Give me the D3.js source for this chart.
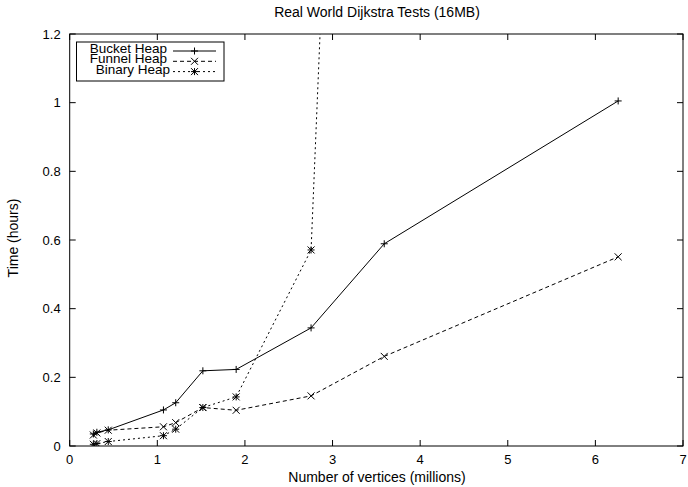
<!DOCTYPE html>
<html>
<head>
<meta charset="utf-8">
<script src="https://d3js.org/d3.v7.min.js"></script>
<style>
  body { margin: 0; background: #fff; }
  svg text { font-family: "Liberation Sans", Arial, Helvetica, sans-serif; font-size: 14px; fill: #000; }
  svg .tick text { font-size: 13px; }
  svg .legend text { font-size: 13.5px; }
</style>
</head>
<body>
<div class="wrapper"></div>
<script>
// data (x in millions of vertices, y in hours)
var vertices = [0.27, 0.31, 0.44, 1.07, 1.21, 1.52, 1.90, 2.755, 3.59, 6.26];
var bucketHeap = [0.035, 0.040, 0.047, 0.105, 0.126, 0.219, 0.223, 0.344, 0.589, 1.005];
var funnelHeap = [0.032, 0.038, 0.046, 0.056, 0.068, 0.112, 0.104, 0.146, 0.261, 0.551];
// last binary point lies far above the plot, only its line is visible
var binaryHeap = [0.005, 0.007, 0.013, 0.030, 0.049, 0.112, 0.143, 0.571, 5.7];
var seriesNames = ["Bucket Heap", "Funnel Heap", "Binary Heap"];
var xTicks = [0, 1, 2, 3, 4, 5, 6, 7];
var yTicks = [0, 0.2, 0.4, 0.6, 0.8, 1, 1.2];

var W = 688, H = 487;
var pLeft = 69.7, pRight = 683, pTop = 34, pBottom = 446;

var svg = d3.select(".wrapper")
  .append("svg")
  .attr("width", W)
  .attr("height", H);

var x = d3.scaleLinear().domain([0, 7]).range([pLeft, pRight]);
var y = d3.scaleLinear().domain([0, 1.2]).range([pBottom, pTop]);

// tick marks inside on all four sides (gnuplot mirror style)
var tickLen = 6;
var g = svg.append("g").attr("stroke", "#000").attr("stroke-width", 1);
xTicks.forEach(function(t) {
  g.append("line").attr("x1", x(t)).attr("x2", x(t)).attr("y1", pBottom).attr("y2", pBottom - tickLen);
  g.append("line").attr("x1", x(t)).attr("x2", x(t)).attr("y1", pTop).attr("y2", pTop + tickLen);
});
yTicks.forEach(function(t) {
  g.append("line").attr("x1", pLeft).attr("x2", pLeft + tickLen).attr("y1", y(t)).attr("y2", y(t));
  g.append("line").attr("x1", pRight).attr("x2", pRight - tickLen).attr("y1", y(t)).attr("y2", y(t));
});

var labels = svg.append("g").attr("class", "tick");
labels.selectAll(".xlab").data(xTicks).enter().append("text")
  .attr("x", function(d) { return x(d); })
  .attr("y", pBottom + 18)
  .attr("text-anchor", "middle")
  .text(function(d) { return d; });

labels.selectAll(".ylab").data(yTicks).enter().append("text")
  .attr("x", pLeft - 9)
  .attr("y", function(d) { return y(d) + 4.5; })
  .attr("text-anchor", "end")
  .text(function(d) { return d; });

svg.append("text").attr("x", 377).attr("y", 17).attr("text-anchor", "middle")
  .text("Real World Dijkstra Tests (16MB)");
svg.append("text").attr("x", 377).attr("y", 482).attr("text-anchor", "middle")
  .text("Number of vertices (millions)");
svg.append("text").attr("transform", "translate(18," + ((pTop + pBottom) / 2 - 2) + ") rotate(-90)")
  .attr("text-anchor", "middle")
  .text("Time (hours)");

svg.append("clipPath").attr("id", "plotclip")
  .append("rect").attr("x", pLeft).attr("y", pTop).attr("width", pRight - pLeft).attr("height", pBottom - pTop);

// point markers
var s = 3.5;
function plus(sel, px, py) {
  sel.append("path").attr("d", "M" + (px - s) + "," + py + "H" + (px + s) + "M" + px + "," + (py - s) + "V" + (py + s));
}
function cross(sel, px, py) {
  sel.append("path").attr("d", "M" + (px - s) + "," + (py - s) + "L" + (px + s) + "," + (py + s) +
    "M" + (px - s) + "," + (py + s) + "L" + (px + s) + "," + (py - s));
}
function star(sel, px, py) { plus(sel, px, py); cross(sel, px, py); }

var series = [
  { name: seriesNames[0], values: bucketHeap, dash: null, mark: plus },
  { name: seriesNames[1], values: funnelHeap, dash: "4,3", mark: cross },
  { name: seriesNames[2], values: binaryHeap, dash: "2,3", mark: star }
];

var line = d3.line()
  .x(function(d) { return x(d[0]); })
  .y(function(d) { return y(d[1]); });

var plot = svg.append("g").attr("clip-path", "url(#plotclip)");
series.forEach(function(sr) {
  var pts = sr.values.map(function(v, i) { return [vertices[i], v]; });
  plot.append("path")
    .attr("d", line(pts))
    .attr("fill", "none")
    .attr("stroke", "#000")
    .attr("stroke-width", 1)
    .attr("stroke-dasharray", sr.dash);
  var mg = plot.append("g").attr("stroke", "#000").attr("stroke-width", 1).attr("fill", "none");
  pts.forEach(function(p) { sr.mark(mg, x(p[0]), y(p[1])); });
});

// frame
svg.append("rect").attr("x", pLeft).attr("y", pTop).attr("width", pRight - pLeft).attr("height", pBottom - pTop)
  .attr("fill", "none").attr("stroke", "#000").attr("stroke-width", 1);

// legend
var lg = svg.append("g").attr("class", "legend");
lg.append("rect").attr("x", 76.5).attr("y", 42).attr("width", 147.5).attr("height", 39)
  .attr("fill", "#fff").attr("stroke", "#000").attr("stroke-width", 1);
var textEnd = [167, 167, 170];
series.forEach(function(sr, i) {
  var ly = 51 + i * 10.3;
  lg.append("text").attr("x", textEnd[i]).attr("y", ly + 2).attr("text-anchor", "end").text(sr.name);
  lg.append("line").attr("x1", 173).attr("x2", 216).attr("y1", ly).attr("y2", ly)
    .attr("stroke", "#000").attr("stroke-width", 1).attr("stroke-dasharray", sr.dash);
  var mg = lg.append("g").attr("stroke", "#000").attr("stroke-width", 1).attr("fill", "none");
  sr.mark(mg, 194.5, ly);
});
</script>
</body>
</html>
